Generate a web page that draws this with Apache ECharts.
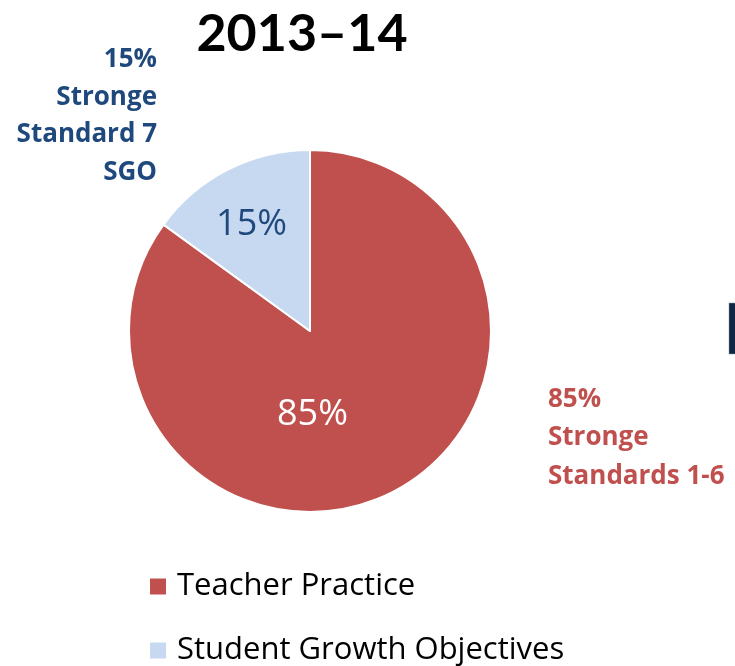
<!DOCTYPE html>
<html lang="en">
<head>
    <meta charset="UTF-8">
    <title>2013-14</title>
    <script src="https://cdn.jsdelivr.net/npm/echarts@6/dist/echarts.min.js"></script>
    <style>
        html,body{
            margin: 0;
            width: 100%;
            height: 100%;
            background: #fff;
        }
        #pieChart{
            width: 735px;
            height: 666px;
        }
    </style>
</head>
<body>
<div id="pieChart"></div>
<script type="text/javascript">
    var categories = ['Teacher Practice', 'Student Growth Objectives'];
    var values = [85, 15];
    var colors = ['#C0504D', '#C6D9F1'];
    var labelColors = ['#ffffff', '#1F497D'];
    // label shift from the default inside spot, like the hand-placed labels in the slide
    var labelShift = [[-40, 0], [-16, -23]];
    var noteLeft = ['15%', 'Stronge', 'Standard 7', 'SGO'];
    var noteRight = ['85%', 'Stronge', 'Standards 1-6'];

    var font = '"Open Sans", Lato, sans-serif';
    var titleFont = 'Lato, "Open Sans", sans-serif';

    function legendFor(name, top) {
        return {
            orient: 'vertical',
            left: 148,
            top: top,
            padding: 0,
            icon: 'rect',
            itemWidth: 18,
            itemHeight: 18,
            data: [name],
            textStyle: {
                fontFamily: font,
                fontSize: 31,
                color: '#000',
                padding: [0, 0, 0, 5]
            }
        };
    }

    function initPie(id) {
        var myChart = echarts.init(document.getElementById(id));
        var data = [];
        for (var i = 0; i < categories.length; i++) {
            data.push({
                name: categories[i],
                value: values[i],
                itemStyle: {color: colors[i]},
                label: {color: labelColors[i]}
            });
        }
        var option = {
            backgroundColor: '#fff',
            animation: false,
            title: {
                text: '2013\u201314',
                left: 297,
                top: 3,
                textAlign: 'center',
                textStyle: {
                    fontFamily: titleFont,
                    fontWeight: 'bold',
                    fontSize: 52,
                    color: '#000'
                }
            },
            legend: [
                legendFor(categories[0], 571),
                legendFor(categories[1], 635)
            ],
            graphic: [
                {
                    type: 'text',
                    x: 157,
                    y: 41,
                    style: {
                        text: noteLeft.join('\n'),
                        fill: '#1F497D',
                        fontFamily: font,
                        fontWeight: 'bold',
                        fontSize: 26,
                        lineHeight: 37.5,
                        align: 'right'
                    }
                },
                {
                    type: 'text',
                    x: 548,
                    y: 380,
                    style: {
                        text: noteRight.join('\n'),
                        fill: '#C0504D',
                        fontFamily: font,
                        fontWeight: 'bold',
                        fontSize: 26,
                        lineHeight: 38.5,
                        align: 'left'
                    }
                },
                {
                    type: 'rect',
                    shape: {x: 729, y: 303, width: 8, height: 51},
                    style: {fill: '#0F2744', stroke: '#8a97a8', lineWidth: 0.5}
                }
            ],
            series: [
                {
                    type: 'pie',
                    center: [310, 331],
                    radius: 181,
                    startAngle: 90,
                    clockwise: true,
                    legendHoverLink: false,
                    itemStyle: {
                        borderColor: '#fff',
                        borderWidth: 2
                    },
                    label: {
                        show: true,
                        position: 'inside',
                        formatter: '{c}%',
                        fontFamily: font,
                        fontSize: 36
                    },
                    labelLine: {show: false},
                    labelLayout: function (params) {
                        var s = labelShift[params.dataIndex];
                        return {dx: s[0], dy: s[1]};
                    },
                    data: data
                }
            ]
        };
        myChart.setOption(option, true);
    }

    initPie('pieChart');
</script>
</body>
</html>
